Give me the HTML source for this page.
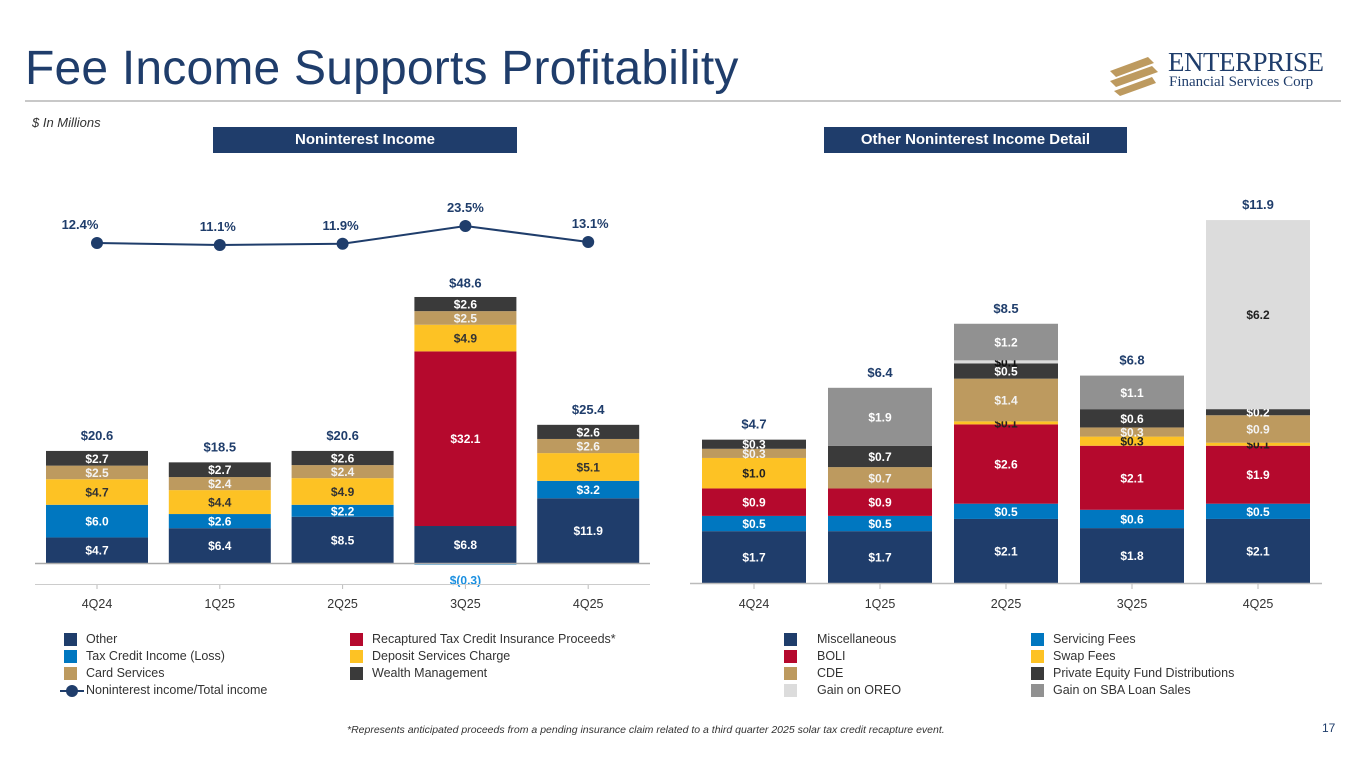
<!DOCTYPE html>
<html><head><meta charset="utf-8"><style>
body{margin:0;width:1365px;height:768px;background:#fff;font-family:"Liberation Sans",sans-serif;overflow:hidden;position:relative}
.abs{position:absolute}
.leg{position:absolute;font-size:12.5px;color:#333;white-space:nowrap}
.leg span.sw{position:absolute;left:-22px;top:1px;width:13px;height:13px}
</style></head><body>
<div class="abs" style="left:25px;top:41px;font-size:48px;color:#1f3d6b;letter-spacing:0.2px">Fee Income Supports Profitability</div>
<div class="abs" style="left:25px;top:100px;width:1316px;height:2px;background:#c8c8c8"></div>
<div class="abs" style="left:1108px;top:47px;width:230px;height:50px">
 <svg width="50" height="45" style="position:absolute;left:0;top:6px">
  <g fill="#bd9a5f"><polygon points="2,18 40,4 46,10 8,24"/><polygon points="2,28 44,13 50,19 8,34"/><polygon points="6,38 44,24 48,30 12,43"/></g>
 </svg>
 <div class="abs" style="left:60px;top:0;font-family:'Liberation Serif',serif;font-size:27px;color:#1f3d6b;letter-spacing:-0.5px">ENTERPRISE</div>
 <div class="abs" style="left:61px;top:27px;font-family:'Liberation Serif',serif;font-size:15px;color:#1f3d6b">Financial Services Corp</div>
</div>
<div class="abs" style="left:32px;top:115px;font-size:13px;font-style:italic;color:#333">$ In Millions</div>
<div class="abs" style="left:213px;top:127px;width:304px;height:26px;background:#1f3d6b;color:#fff;font-weight:bold;font-size:15px;text-align:center;line-height:26px">Noninterest Income</div>
<div class="abs" style="left:824px;top:127px;width:303px;height:26px;background:#1f3d6b;color:#fff;font-weight:bold;font-size:15px;text-align:center;line-height:26px">Other Noninterest Income Detail</div>

<svg id="chart" class="abs" style="left:0;top:0" width="1365" height="768"></svg>

<div class="leg" style="left:86px;top:632px"><span class="sw" style="background:#1f3d6b"></span>Other</div>
<div class="leg" style="left:86px;top:649px"><span class="sw" style="background:#0077c0"></span>Tax Credit Income (Loss)</div>
<div class="leg" style="left:86px;top:666px"><span class="sw" style="background:#bd9a5f"></span>Card Services</div>
<div class="leg" style="left:86px;top:683px"><svg style="position:absolute;left:-26px;top:0" width="24" height="16"><line x1="0" y1="8" x2="24" y2="8" stroke="#1f3d6b" stroke-width="2"/><circle cx="12" cy="8" r="6" fill="#1f3d6b"/></svg>Noninterest income/Total income</div>
<div class="leg" style="left:372px;top:632px"><span class="sw" style="background:#b5092d"></span>Recaptured Tax Credit Insurance Proceeds*</div>
<div class="leg" style="left:372px;top:649px"><span class="sw" style="background:#fdc224"></span>Deposit Services Charge</div>
<div class="leg" style="left:372px;top:666px"><span class="sw" style="background:#3a3a3a"></span>Wealth Management</div>

<div class="leg" style="left:817px;top:632px"><span class="sw" style="background:#1f3d6b;left:-33px"></span>Miscellaneous</div>
<div class="leg" style="left:817px;top:649px"><span class="sw" style="background:#b5092d;left:-33px"></span>BOLI</div>
<div class="leg" style="left:817px;top:666px"><span class="sw" style="background:#bd9a5f;left:-33px"></span>CDE</div>
<div class="leg" style="left:817px;top:683px"><span class="sw" style="background:#dcdcdc;left:-33px"></span>Gain on OREO</div>
<div class="leg" style="left:1053px;top:632px"><span class="sw" style="background:#0077c0"></span>Servicing Fees</div>
<div class="leg" style="left:1053px;top:649px"><span class="sw" style="background:#fdc224"></span>Swap Fees</div>
<div class="leg" style="left:1053px;top:666px"><span class="sw" style="background:#3a3a3a"></span>Private Equity Fund Distributions</div>
<div class="leg" style="left:1053px;top:683px"><span class="sw" style="background:#919191"></span>Gain on SBA Loan Sales</div>

<div class="abs" style="left:347px;top:724px;font-size:10.5px;font-style:italic;color:#333">*Represents anticipated proceeds from a pending insurance claim related to a third quarter 2025 solar tax credit recapture event.</div>
<div class="abs" style="left:1322px;top:721px;font-size:12px;color:#1f3d6b">17</div>

<script>
const quarters = ["4Q24","1Q25","2Q25","3Q25","4Q25"];
// Left chart series (bottom to top)
const leftOther = [4.7,6.4,8.5,6.8,11.9];
const leftTaxCredit = [6.0,2.6,2.2,-0.3,3.2];
const leftRecaptured = [0,0,0,32.1,0];
const leftDeposit = [4.7,4.4,4.9,4.9,5.1];
const leftCard = [2.5,2.4,2.4,2.5,2.6];
const leftWealth = [2.7,2.7,2.6,2.6,2.6];
const leftTotals = [20.6,18.5,20.6,48.6,25.4];
const ratioPct = [12.4,11.1,11.9,23.5,13.1];
// Right chart series (bottom to top)
const rMisc = [1.7,1.7,2.1,1.8,2.1];
const rServicing = [0.5,0.5,0.5,0.6,0.5];
const rBoli = [0.9,0.9,2.6,2.1,1.9];
const rSwap = [1.0,0,0.1,0.3,0.1];
const rCde = [0.3,0.7,1.4,0.3,0.9];
const rPe = [0.3,0.7,0.5,0.6,0.2];
const rOreo = [0,0,0.1,0,6.2];
const rSba = [0,1.9,1.2,1.1,0];
const rTotals = [4.7,6.4,8.5,6.8,11.9];

const NS="http://www.w3.org/2000/svg";
const svg=document.getElementById('chart');
function mk(tag,attrs,parent){const e=document.createElementNS(NS,tag);for(const k in attrs)e.setAttribute(k,attrs[k]);(parent||svg).appendChild(e);return e;}
function fmt(v){return v<0?'$('+Math.abs(v).toFixed(1)+')':'$'+v.toFixed(1);}
function txt(x,y,s,size,fill,name){const t=mk('text',{x:x,y:y,'text-anchor':'middle','font-size':size,'font-weight':'bold',fill:fill,'font-family':'Liberation Sans, sans-serif'});t.textContent=s;


return t;}

// Left axes
const L={x0:97,step:122.8,bw:102,base:563,k:5.44};
const lx=i=>L.x0+i*L.step;
const ly=v=>L.base-v*L.k;
const leftSeries=[[leftOther,'#1f3d6b','#fff','other'],[leftTaxCredit,'#0077c0','#fff','tax-credit'],[leftRecaptured,'#b5092d','#fff','recaptured'],[leftDeposit,'#fdc224','#333','deposit'],[leftCard,'#bd9a5f','#f3f3f3','card'],[leftWealth,'#3a3a3a','#fff','wealth']];
quarters.forEach((q,i)=>{
  let cum=0;
  leftSeries.forEach(([arr,col,tc,nm])=>{
    const v=arr[i]; if(v===0)return;
    let y0,y1;
    if(v<0){y0=L.base;y1=L.base-v*L.k;}else{y0=ly(cum+v);y1=ly(cum);cum+=v;}
    const r=mk('rect',{x:lx(i)-L.bw/2,y:y0,width:L.bw,height:Math.max(1.5,y1-y0),fill:col});
    
    
    if(v<0) txt(lx(i),y1+20,fmt(v),12,'#1a8fe0','label-'+nm+'-'+q);
    else txt(lx(i),(y0+y1)/2+4.5,fmt(v),12,tc,'label-'+nm+'-'+q);
  });
  txt(lx(i),ly(leftTotals[i])-11,fmt(leftTotals[i]),13,'#1f3d6b','total-'+q);
  const t=txt(lx(i),608,q,12.5,'#333','x-tick-'+q); t.setAttribute('font-weight','normal');
  mk('line',{x1:lx(i),y1:584,x2:lx(i),y2:589,stroke:'#bbb'});
});
mk('line',{x1:35,y1:563.5,x2:650,y2:563.5,stroke:'#aaa','stroke-width':1.5});
mk('line',{x1:35,y1:584.5,x2:650,y2:584.5,stroke:'#ccc','stroke-width':1});
// ratio line
const py=v=>262-v*1.53;
const pts=ratioPct.map((v,i)=>lx(i)+','+py(v)).join(' ');
const pl=mk('polyline',{points:pts,fill:'none',stroke:'#1f3d6b','stroke-width':2});


ratioPct.forEach((v,i)=>{
  const c=mk('circle',{cx:lx(i),cy:py(v),r:6,fill:'#1f3d6b'});
  
  
  const dx=(i===0?-17:(i===4?2:(i===3?0:-2)));
  txt(lx(i)+dx,py(v)-14,v.toFixed(1)+'%',13,'#1f3d6b','ratio-label-'+quarters[i]);
});

// Right axes
const R={x0:754,step:126,bw:104,base:583,k:30.5};
const rx=i=>R.x0+i*R.step;
const ry=v=>R.base-v*R.k;
const rSeries=[[rMisc,'#1f3d6b','#fff','misc'],[rServicing,'#0077c0','#fff','servicing'],[rBoli,'#b5092d','#fff','boli'],[rSwap,'#fdc224','#222','swap'],[rCde,'#bd9a5f','#f3f3f3','cde'],[rPe,'#3a3a3a','#fff','private-equity'],[rOreo,'#dcdcdc','#222','oreo'],[rSba,'#919191','#fff','sba']];
quarters.forEach((q,i)=>{
  let cum=0;
  rSeries.forEach(([arr,col,tc,nm])=>{
    const v=arr[i]; if(v===0)return;
    const y0=ry(cum+v),y1=ry(cum);cum+=v;
    const r=mk('rect',{x:rx(i)-R.bw/2,y:y0,width:R.bw,height:y1-y0,fill:col});
    
    
    let c=tc; if(nm==='oreo'&&v<0.5) c='#111';
    txt(rx(i),(y0+y1)/2+4.5,fmt(v),12,c,'label-'+nm+'-'+q);
  });
  txt(rx(i),ry(rTotals[i])-11,fmt(rTotals[i]),13,'#1f3d6b','right-total-'+q);
  const t=txt(rx(i),608,q,12.5,'#333','right-x-tick-'+q); t.setAttribute('font-weight','normal');
  mk('line',{x1:rx(i),y1:583,x2:rx(i),y2:589,stroke:'#bbb'});
});
mk('line',{x1:690,y1:583.5,x2:1322,y2:583.5,stroke:'#bbb','stroke-width':1.5});
</script>
</body></html>
